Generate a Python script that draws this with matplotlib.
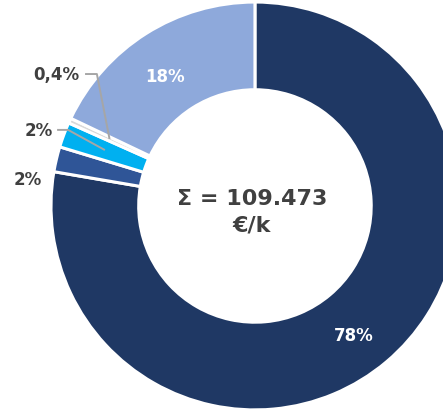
import numpy as np
import matplotlib
matplotlib.use("Agg")
import matplotlib.pyplot as plt

# cost shares, clockwise from 12 o'clock
shares = [78, 2, 2, 0.4, 18]
labels = ["78%", "2%", "2%", "0,4%", "18%"]
colors = ["#1F3864", "#2F5597", "#00B0F0", "#D9D9D9", "#8EA9DB"]
total_text = "Σ = 109.473\n€/k"

ring = 0.43
txt_dark = "#404040"
lead_col = "#A6A6A6"
fs = 12

fig = plt.figure(figsize=(4.43, 4.15), dpi=100)
ax = fig.add_axes([0, 0, 1, 1])

wedges, _ = ax.pie(shares, colors=colors, startangle=90, counterclock=False,
                   radius=1.0, wedgeprops=dict(width=ring, edgecolor="white", linewidth=2.2))

mid_r = 1.0 - ring / 2

def mid_point(w, r):
    a = np.deg2rad((w.theta1 + w.theta2) / 2)
    return r * np.cos(a), r * np.sin(a)

# big slices labelled inside the ring
x, y = mid_point(wedges[0], mid_r)
ax.text(x - 0.02, y - 0.04, labels[0], color="white", fontsize=fs, fontweight="bold",
        ha="center", va="center")
x, y = mid_point(wedges[4], mid_r)
ax.text(x - 0.02, y - 0.03, labels[4], color="white", fontsize=fs, fontweight="bold",
        ha="center", va="center")

# small slices labelled outside
ax.text(-1.115, 0.127, labels[1], color=txt_dark, fontsize=fs, fontweight="bold",
        ha="center", va="center")

x, y = mid_point(wedges[2], mid_r)
ax.plot([-0.97, -0.916, x], [0.373, 0.373, y], color=lead_col, lw=1.4, solid_capstyle="butt")
ax.text(-1.061, 0.368, labels[2], color=txt_dark, fontsize=fs, fontweight="bold",
        ha="center", va="center")

x, y = mid_point(wedges[3], mid_r)
ax.plot([-0.833, -0.775, x], [0.647, 0.647, y], color=lead_col, lw=1.4, solid_capstyle="butt")
ax.text(-0.973, 0.642, labels[3], color=txt_dark, fontsize=fs, fontweight="bold",
        ha="center", va="center")

ax.text(-0.015, -0.032, total_text, color=txt_dark, fontsize=16, fontweight="bold",
        ha="center", va="center", linespacing=1.4)

ax.set_xlim(-1.25, 0.922)
ax.set_ylim(-1.025, 1.01)
ax.set_aspect("auto")
ax.axis("off")

fig.savefig("out.png", dpi=100)
